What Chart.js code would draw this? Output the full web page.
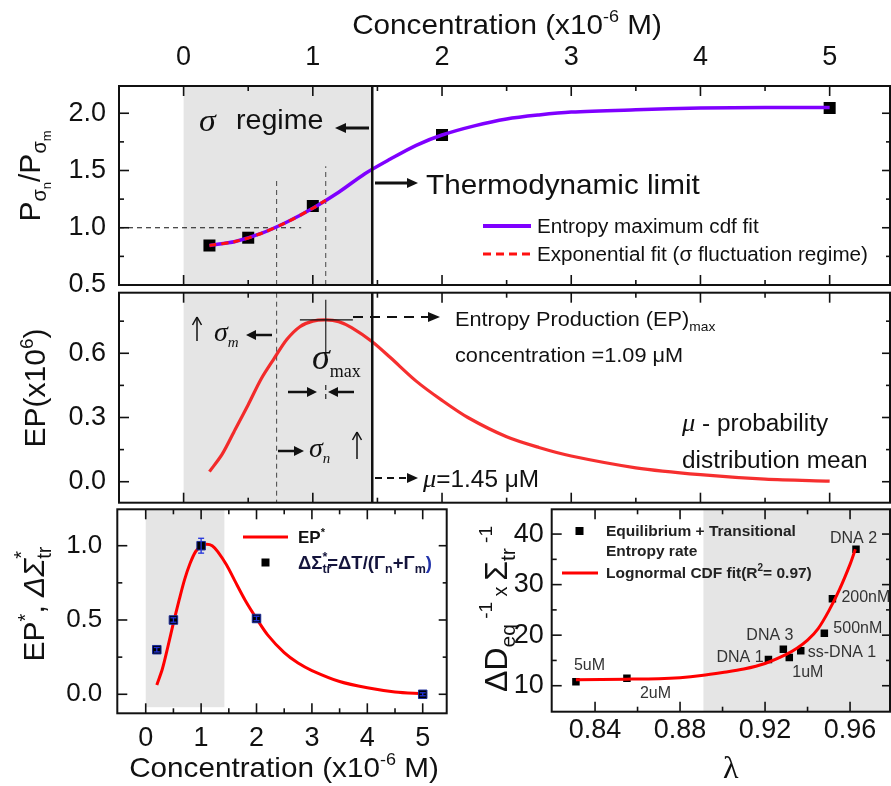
<!DOCTYPE html>
<html>
<head>
<meta charset="utf-8">
<script src="https://cdn.jsdelivr.net/npm/chart.js@4.4.1/dist/chart.umd.min.js"></script>
<style>
body { margin: 0; background: #fff; width: 891px; height: 786px; overflow: hidden; position: relative; }
canvas { position: absolute; left: 0; top: 0; }
</style>
</head>
<body>
<canvas id="top" width="891" height="786"></canvas>
<canvas id="mid" width="891" height="786"></canvas>
<canvas id="left" width="891" height="786"></canvas>
<canvas id="right" width="891" height="786"></canvas>
<script>
// ---- data ----
// top panel: P(sigma_n)/P(sigma_m) vs concentration
const conc = [0.2, 0.5, 1, 2, 5];
const ratio = [0.845, 0.913, 1.19, 1.81, 2.046];
const cdfX = [0.2, 0.4, 0.6, 0.8, 1.0, 1.2, 1.4, 1.6, 1.8, 2.0, 2.25, 2.5, 2.75, 3.0, 3.5, 4.0, 4.5, 5.0];
const cdfY = [0.845, 0.88, 0.95, 1.05, 1.17, 1.31, 1.47, 1.6, 1.72, 1.81, 1.89, 1.95, 1.985, 2.01, 2.03, 2.045, 2.05, 2.05];
const expX = [0.2, 0.4, 0.6, 0.8, 1.0, 1.1];
const expY = [0.845, 0.88, 0.95, 1.05, 1.17, 1.24];

// middle panel: entropy production
const epX = [0.2, 0.3, 0.4, 0.5, 0.6, 0.7, 0.8, 0.9, 1.0, 1.1, 1.2, 1.3, 1.46, 1.6, 1.8, 2.0, 2.2, 2.5, 2.75, 3.0, 3.5, 4.0, 4.5, 5.0];
const epY = [0.047, 0.13, 0.245, 0.36, 0.48, 0.575, 0.665, 0.724, 0.75, 0.756, 0.748, 0.72, 0.654, 0.58, 0.47, 0.38, 0.3, 0.21, 0.16, 0.12, 0.065, 0.033, 0.012, 0.003];

// bottom left: normalised EP* and delta Sigma_tr*
const epsX = [0.2, 0.3, 0.4, 0.5, 0.6, 0.7, 0.8, 0.9, 1.0, 1.1, 1.2, 1.3, 1.46, 1.6, 1.8, 2.0, 2.2, 2.5, 2.75, 3.0, 3.5, 4.0, 4.5, 5.0];
const epsY = [0.063, 0.17, 0.32, 0.48, 0.63, 0.77, 0.88, 0.96, 1.0, 1.01, 1.0, 0.96, 0.87, 0.77, 0.63, 0.51, 0.4, 0.28, 0.21, 0.16, 0.086, 0.044, 0.016, 0.004];
const dsX = [0.2, 0.5, 1, 2, 5];
const dsY = [0.30, 0.50, 1.0, 0.51, 0.0];
const dsErr = [0.015, 0.015, 0.05, 0.015, 0.01];

// bottom right: rate vs lambda
const lam = [0.831, 0.855, 0.9216, 0.9286, 0.9314, 0.9368, 0.9479, 0.9517, 0.9628];
const rate = [10.8, 11.5, 15.2, 17.2, 15.6, 16.9, 20.4, 27.2, 37.0];
const names = ['5uM', '2uM', 'DNA 1', 'DNA 3', '1uM', 'ss-DNA 1', '500nM', '200nM', 'DNA 2'];
const fitX = [0.831, 0.855, 0.87, 0.88, 0.89, 0.9, 0.91, 0.92, 0.93, 0.935, 0.94, 0.945, 0.95, 0.955, 0.96, 0.9625];
const fitY = [11.2, 11.3, 11.4, 11.6, 12.0, 12.6, 13.3, 14.4, 16.2, 17.4, 19.0, 21.3, 24.8, 29.0, 34.0, 37.0];

// tick values
const concTicks = [0, 1, 2, 3, 4, 5];
const concMinor = [0.5, 1.5, 2.5, 3.5, 4.5];
const ratioTicks = [0.5, 1.0, 1.5, 2.0];
const ratioMinor = [0.75, 1.25, 1.75];
const epTicks = [0, 0.3, 0.6];
const epMinor = [0.15, 0.45, 0.75];
const epsTicks = [0, 0.5, 1.0];
const epsMinor = [0.25, 0.75];
const lamTicks = [0.84, 0.88, 0.92, 0.96];
const lamMinor = [0.86, 0.9, 0.94];
const rateTicks = [10, 20, 30, 40];
const rateMinor = [15, 25, 35];

// label nudges for the bottom right points (px from the point)
const labelDx = [-2, 13, -52, -37, 3, 7, 9, 9, -26];
const labelDy = [-12, 20, 3, -9, 20, 6, 0, 3, -6];

const SANS = '"Liberation Sans", Arial, sans-serif';
const SERIF = '"Liberation Serif", "Times New Roman", serif';
const INK = '#111';
const GRAY = '#e5e5e5';
const SX = 1.06;

function xy(xs, ys) { return xs.map((x, i) => ({ x: x, y: ys[i] })); }
function font(size, style, fam) { return (style ? style + ' ' : '') + size + 'px ' + (fam || SANS); }

function rich(ctx, parts, x, y, o) {
    o = o || {};
    ctx.save();
    ctx.translate(x, y);
    if (o.rot) ctx.rotate(-Math.PI / 2);
    ctx.scale(o.sx || (o.rot ? 1 : SX), 1);
    ctx.textBaseline = 'alphabetic';
    ctx.textAlign = 'left';
    let pos = [], cur = 0, prev = 0, end = 0;
    parts.forEach(p => {
        ctx.font = font(p.s, p.st, p.f);
        if (p.stack) cur = prev;
        prev = cur;
        pos.push(cur);
        cur += ctx.measureText(p.t).width;
        end = Math.max(end, cur);
    });
    let off = o.align === 'center' ? -end / 2 : (o.align === 'right' ? -end : 0);
    parts.forEach((p, i) => {
        ctx.font = font(p.s, p.st, p.f);
        ctx.fillStyle = p.c || o.color || INK;
        ctx.fillText(p.t, off + pos[i], p.dy || 0);
    });
    ctx.restore();
}

function txt(ctx, s, x, y, size, o) {
    o = o || {};
    rich(ctx, [{ t: s, s: size, st: o.st, f: o.f, c: o.c }], x, y, o);
}

function seg(ctx, x1, y1, x2, y2, lw, dash, col) {
    ctx.save();
    ctx.strokeStyle = col || INK;
    ctx.lineWidth = lw || 1;
    if (dash) ctx.setLineDash(dash);
    ctx.beginPath(); ctx.moveTo(x1, y1); ctx.lineTo(x2, y2); ctx.stroke();
    ctx.restore();
}

function arrow(ctx, x1, y1, x2, y2, o) {
    o = o || {};
    let a = Math.atan2(y2 - y1, x2 - x1), h = o.head || 10, w = o.hw || 4.5;
    let bx = x2 - h * Math.cos(a), by = y2 - h * Math.sin(a);
    seg(ctx, x1, y1, bx, by, o.lw || 2.5, o.dash);
    ctx.save();
    ctx.fillStyle = INK;
    ctx.beginPath();
    ctx.moveTo(x2, y2);
    ctx.lineTo(bx + w * Math.sin(a), by - w * Math.cos(a));
    ctx.lineTo(bx - w * Math.sin(a), by + w * Math.cos(a));
    ctx.closePath(); ctx.fill();
    ctx.restore();
}

function upArrow(ctx, x, y1, y2) {
    seg(ctx, x, y1, x, y2, 1.5);
    seg(ctx, x, y2, x - 4.5, y2 + 8, 1.5);
    seg(ctx, x, y2, x + 4.5, y2 + 8, 1.5);
}

function frame(c, xMaj, xMin, yMaj, yMin) {
    const ctx = c.ctx, a = c.chartArea, x = c.scales.x, y = c.scales.y;
    xMaj.forEach(v => { let p = x.getPixelForValue(v); seg(ctx, p, a.top, p, a.top + 10, 1.6); seg(ctx, p, a.bottom, p, a.bottom - 10, 1.6); });
    xMin.forEach(v => { let p = x.getPixelForValue(v); seg(ctx, p, a.top, p, a.top + 5, 1.6); seg(ctx, p, a.bottom, p, a.bottom - 5, 1.6); });
    yMaj.forEach(v => { let p = y.getPixelForValue(v); seg(ctx, a.left, p, a.left + 10, p, 1.6); seg(ctx, a.right, p, a.right - 8, p, 1.6); });
    yMin.forEach(v => { let p = y.getPixelForValue(v); seg(ctx, a.left, p, a.left + 5, p, 1.6); seg(ctx, a.right, p, a.right - 4, p, 1.6); });
    ctx.save();
    ctx.strokeStyle = INK; ctx.lineWidth = 2;
    ctx.strokeRect(a.left, a.top, a.right - a.left, a.bottom - a.top);
    ctx.restore();
}

function shade(c, x1, x2, y1, y2) {
    const ctx = c.ctx, a = c.chartArea, x = c.scales.x, y = c.scales.y;
    let l = x1 == null ? a.left : x.getPixelForValue(x1);
    let r = x2 == null ? a.right : x.getPixelForValue(x2);
    let t = y2 == null ? a.top : y.getPixelForValue(y2);
    let b = y1 == null ? a.bottom : y.getPixelForValue(y1);
    ctx.save(); ctx.fillStyle = GRAY; ctx.fillRect(l, t, r - l, b - t); ctx.restore();
}

// box = pixel size given to the axis strip (labels are clipped to it)
function axis(pos, min, max, ticks, o) {
    o = o || {};
    const horiz = pos === 'top' || pos === 'bottom';
    return {
        type: 'linear', position: pos, min: min, max: max, display: !o.hide,
        grid: { display: false, drawTicks: false }, border: { display: false },
        afterFit: s => { if (horiz) s.height = o.box || 0; else s.width = o.box || 0; },
        afterBuildTicks: s => { s.ticks = ticks.map(v => ({ value: v })); },
        ticks: {
            padding: o.pad || 10, color: INK, autoSkip: false, maxRotation: 0,
            font: { family: SANS, size: o.size || 27 },
            callback: o.fmt || (v => v)
        }
    };
}

function makeChart(id, pad, scales, datasets, deco) {
    return new Chart(document.getElementById(id), {
        type: 'scatter',
        data: { datasets: datasets },
        options: {
            responsive: false, animation: false, events: [],
            layout: { padding: pad, autoPadding: false },
            plugins: { legend: { display: false }, tooltip: { enabled: false } },
            scales: scales
        },
        plugins: [{
            id: id + 'Deco',
            beforeDatasetsDraw: c => { if (deco.under) deco.under(c); },
            afterDatasetsDraw: c => { if (deco.over) deco.over(c); }
        }]
    });
}

const MU = 1.46;   // probability distribution mean (thermodynamic limit line)

// ---- top panel: plot box 119..890 x 86..285 ----
makeChart('top', { left: 0, top: 0, right: 1, bottom: 786 - 285 }, {
    x: axis('top', -0.5, 5.467, concTicks, { box: 86, pad: 12, size: 27 }),
    y: axis('left', 0.5, 2.238, ratioTicks, { box: 119, pad: 13, size: 27, fmt: v => v.toFixed(1) })
}, [
    { data: xy(expX, expY), showLine: true, borderColor: '#ff1010', borderDash: [7, 5], borderWidth: 3, pointRadius: 0, tension: 0.3 },
    { data: xy(cdfX, cdfY), showLine: true, borderColor: '#7f00ff', borderWidth: 3.5, pointRadius: 0, tension: 0.3 },
    { data: xy(conc, ratio), pointStyle: 'rect', pointRadius: 8.5, backgroundColor: '#000', borderWidth: 0 }
], {
    under: c => {
        const ctx = c.ctx, x = c.scales.x, y = c.scales.y, a = c.chartArea;
        shade(c, 0, MU);
        seg(ctx, a.left, y.getPixelForValue(1.0), x.getPixelForValue(0.91), y.getPixelForValue(1.0), 1, [5, 4]);
        seg(ctx, x.getPixelForValue(0.72), a.bottom, x.getPixelForValue(0.72), y.getPixelForValue(1.436), 1, [5, 4], '#444');
        seg(ctx, x.getPixelForValue(1.1), a.bottom, x.getPixelForValue(1.1), y.getPixelForValue(1.537), 1, [5, 4], '#444');
    },
    over: c => {
        const ctx = c.ctx, x = c.scales.x, a = c.chartArea;
        frame(c, concTicks, concMinor, ratioTicks, ratioMinor);
        seg(ctx, x.getPixelForValue(MU), a.top, x.getPixelForValue(MU), a.bottom, 2.5);
        rich(ctx, [{ t: 'Concentration (x10', s: 28 }, { t: '-6', s: 17, dy: -12 }, { t: ' M)', s: 28 }], 507, 34, { align: 'center' });
        rich(ctx, [{ t: 'P', s: 30 }, { t: 'σ', s: 20, dy: 6 }, { t: 'n', s: 13, dy: 11 }, { t: '/P', s: 30 },
            { t: 'σ', s: 20, dy: 6 }, { t: 'm', s: 13, dy: 11 }], 40, 176, { rot: true, align: 'center' });
        txt(ctx, 'σ', 199, 131, 32, { st: 'italic', f: SERIF });
        txt(ctx, 'regime', 236, 129, 27);
        arrow(ctx, 369, 128, 335, 128, { lw: 3, head: 11, hw: 5 });
        arrow(ctx, 375, 183, 418, 183, { lw: 3, head: 11, hw: 5 });
        txt(ctx, 'Thermodynamic limit', 426, 194, 28);
        seg(ctx, 483, 226, 531, 226, 4, null, '#7f00ff');
        seg(ctx, 483, 254, 531, 254, 3, [8, 5], '#ff1010');
        txt(ctx, 'Entropy maximum cdf fit', 537, 233, 19.5);
        txt(ctx, 'Exponential fit (σ fluctuation regime)', 537, 261, 19.5);
    }
});

// ---- middle panel: plot box 119..890 x 292.7..502.7 ----
makeChart('mid', { left: 0, top: 292.7, right: 1, bottom: 786 - 502.7 }, {
    x: axis('bottom', -0.5, 5.467, concTicks, { hide: true }),
    y: axis('left', -0.098, 0.883, epTicks, { box: 119, pad: 13, size: 27, fmt: v => v.toFixed(1) })
}, [
    { data: xy(epX, epY), showLine: true, borderColor: 'rgba(245,10,10,0.85)', borderWidth: 3.2, pointRadius: 0, tension: 0.3 }
], {
    under: c => {
        const ctx = c.ctx, x = c.scales.x, a = c.chartArea;
        shade(c, 0, MU);
        seg(ctx, x.getPixelForValue(0.72), a.top, x.getPixelForValue(0.72), a.bottom, 1, [5, 4], '#444');
    },
    over: c => {
        const ctx = c.ctx, x = c.scales.x, y = c.scales.y, a = c.chartArea;
        frame(c, concTicks, concMinor, epTicks, epMinor);
        seg(ctx, x.getPixelForValue(MU), a.top, x.getPixelForValue(MU), a.bottom, 2.5);
        let px = x.getPixelForValue(1.1), pk = y.getPixelForValue(0.756);
        seg(ctx, px, y.getPixelForValue(0.85), px, y.getPixelForValue(0.584), 1.3, null, '#333');
        seg(ctx, px, y.getPixelForValue(0.452), px, y.getPixelForValue(0.368), 1.3, [5, 4], '#333');
        seg(ctx, x.getPixelForValue(0.9), pk, x.getPixelForValue(1.31), pk, 1.3);
        arrow(ctx, 353, 317, 440, 317, { lw: 2, dash: [10, 7], head: 12, hw: 5 });
        rich(ctx, [{ t: 'Entropy Production (EP)', s: 20.5 }, { t: 'max', s: 13, dy: 5 }], 455, 326);
        rich(ctx, [{ t: 'concentration =1.09 ', s: 20.5 }, { t: 'μ', s: 20.5 }, { t: 'M', s: 20.5 }], 455, 362);
        upArrow(ctx, 197, 341, 317);
        rich(ctx, [{ t: 'σ', s: 28, st: 'italic', f: SERIF }, { t: 'm', s: 15, dy: 6, st: 'italic', f: SERIF }], 214, 341, { sx: 1 });
        arrow(ctx, 272, 335, 246, 335, { lw: 2.5, head: 10, hw: 5 });
        rich(ctx, [{ t: 'σ', s: 36, st: 'italic', f: SERIF }, { t: 'max', s: 18, dy: 8, f: SERIF }], 312, 369, { sx: 1 });
        arrow(ctx, 288, 392, 317, 392, { lw: 2.5, head: 10, hw: 5 });
        arrow(ctx, 354, 392, 328, 392, { lw: 2.5, head: 10, hw: 5 });
        arrow(ctx, 278, 451, 304, 451, { lw: 2.5, head: 10, hw: 5 });
        rich(ctx, [{ t: 'σ', s: 28, st: 'italic', f: SERIF }, { t: 'n', s: 15, dy: 6, st: 'italic', f: SERIF }], 309, 457, { sx: 1 });
        upArrow(ctx, 357, 459, 432);
        arrow(ctx, 375, 478, 418, 478, { lw: 2, dash: [7, 5], head: 11, hw: 5 });
        rich(ctx, [{ t: 'μ', s: 25, st: 'italic', f: SERIF }, { t: '=1.45 ', s: 23 }, { t: 'μ', s: 23 }, { t: 'M', s: 23 }], 423, 487);
        rich(ctx, [{ t: 'μ', s: 25, st: 'italic', f: SERIF }, { t: ' - probability', s: 23 }], 682, 431);
        txt(ctx, 'distribution mean', 682, 468, 23);
        rich(ctx, [{ t: 'EP(x10', s: 30 }, { t: '6', s: 19, dy: -12 }, { t: ')', s: 30 }], 45, 388, { rot: true, align: 'center' });
    }
});

// ---- bottom left panel: plot box 117.3..446.7 x 509.3..713.3 ----
makeChart('left', { left: 0, top: 509.3, right: 891 - 446.7, bottom: 0 }, {
    x: axis('bottom', -0.513, 5.433, concTicks, { box: 786 - 713.3, pad: 9, size: 27 }),
    y: axis('left', -0.128, 1.245, epsTicks, { box: 117.3, pad: 15, size: 26, fmt: v => v.toFixed(1) })
}, [
    { data: xy(dsX, dsY), pointStyle: 'rect', pointRadius: 6, backgroundColor: '#000', borderColor: '#1a2a9a', borderWidth: 1 },
    { data: xy(epsX, epsY), showLine: true, borderColor: '#ff0000', borderWidth: 3, pointRadius: 0, tension: 0.3 }
], {
    under: c => { shade(c, 0, 1.42, -0.087, null); },
    over: c => {
        const ctx = c.ctx, x = c.scales.x, y = c.scales.y;
        dsX.forEach((v, i) => {
            let px = x.getPixelForValue(v), lo = y.getPixelForValue(dsY[i] - dsErr[i]), hi = y.getPixelForValue(dsY[i] + dsErr[i]);
            seg(ctx, px, lo, px, hi, 1.3, null, '#2233dd');
            seg(ctx, px - 3, lo, px + 3, lo, 1.3, null, '#2233dd');
            seg(ctx, px - 3, hi, px + 3, hi, 1.3, null, '#2233dd');
        });
        frame(c, concTicks, concMinor, epsTicks, epsMinor);
        rich(ctx, [{ t: 'Concentration (x10', s: 28 }, { t: '-6', s: 17, dy: -12 }, { t: ' M)', s: 28 }], 284, 777, { align: 'center' });
        rich(ctx, [{ t: 'EP', s: 30 }, { t: '*', s: 20, dy: -12 }, { t: ', ', s: 30 }, { t: 'ΔΣ', s: 30, st: 'italic' },
            { t: 'tr', s: 20, dy: 7 }, { t: '*', s: 20, dy: -16, stack: true }], 44, 604, { rot: true, align: 'center' });
        seg(ctx, 243, 537, 288, 537, 3, null, '#ff0000');
        rich(ctx, [{ t: 'EP', s: 17, st: 'bold' }, { t: '*', s: 11, st: 'bold', dy: -7 }], 298, 543, { sx: 1 });
        ctx.save(); ctx.fillStyle = '#000'; ctx.fillRect(261.5, 558.5, 8, 8); ctx.restore();
        rich(ctx, [{ t: 'ΔΣ', s: 18.5, st: 'bold' }, { t: 'tr', s: 12.5, st: 'bold', dy: 4 }, { t: '*', s: 12.5, st: 'bold', dy: -8, stack: true },
            { t: '=ΔT/(Γ', s: 18.5, st: 'bold' }, { t: 'n', s: 12.5, st: 'bold', dy: 4 }, { t: '+Γ', s: 18.5, st: 'bold' },
            { t: 'm', s: 12.5, st: 'bold', dy: 4 }, { t: ')', s: 18.5, st: 'bold', c: '#2233aa' }], 298, 569, { sx: 1, color: '#14143c' });
    }
});

// ---- bottom right panel: plot box 551.7..890 x 509.3..711.7 ----
makeChart('right', { left: 0, top: 509.3, right: 1, bottom: 0 }, {
    x: axis('bottom', 0.8196, 0.9788, lamTicks, { box: 786 - 711.7, pad: 3, size: 27, fmt: v => v.toFixed(2) }),
    y: axis('left', 4.86, 44.9, rateTicks, { box: 551.7, pad: 8, size: 27 })
}, [
    { data: xy(fitX, fitY), showLine: true, borderColor: '#ff0000', borderWidth: 3, pointRadius: 0, tension: 0.3 },
    { data: xy(lam, rate), pointStyle: 'rect', pointRadius: 5.3, backgroundColor: '#000', borderWidth: 0 }
], {
    under: c => { shade(c, 0.891, null); },
    over: c => {
        const ctx = c.ctx, x = c.scales.x, y = c.scales.y;
        frame(c, lamTicks, lamMinor, rateTicks, rateMinor);
        names.forEach((n, i) => {
            txt(ctx, n, x.getPixelForValue(lam[i]) + labelDx[i], y.getPixelForValue(rate[i]) + labelDy[i], 16, { c: '#333', sx: 1 });
        });
        ctx.save(); ctx.fillStyle = '#000'; ctx.fillRect(575.5, 527, 8, 8); ctx.restore();
        txt(ctx, 'Equilibrium + Transitional', 606, 536, 15.5, { st: 'bold', sx: 1, c: '#222' });
        txt(ctx, 'Entropy rate', 606, 556, 15.5, { st: 'bold', sx: 1, c: '#222' });
        seg(ctx, 562, 573, 598, 573, 3, null, '#ff0000');
        rich(ctx, [{ t: 'Lognormal CDF fit(R', s: 15.5, st: 'bold' }, { t: '2', s: 10, st: 'bold', dy: -7 }, { t: '= 0.97)', s: 15.5, st: 'bold' }], 606, 578, { sx: 1, color: '#222' });
        txt(ctx, 'λ', 723, 778, 32, { f: SERIF, sx: 1 });
        rich(ctx, [{ t: 'ΔD', s: 32 }, { t: 'eq', s: 21, dy: 8 }, { t: ' -1', s: 19, dy: -15 },
            { t: ' x ', s: 20 }, { t: 'Σ', s: 32 }, { t: 'tr', s: 21, dy: 8 }, { t: ' -1', s: 19, dy: -15 }],
            507, 609, { rot: true, align: 'center' });
    }
});
</script>
</body>
</html>
